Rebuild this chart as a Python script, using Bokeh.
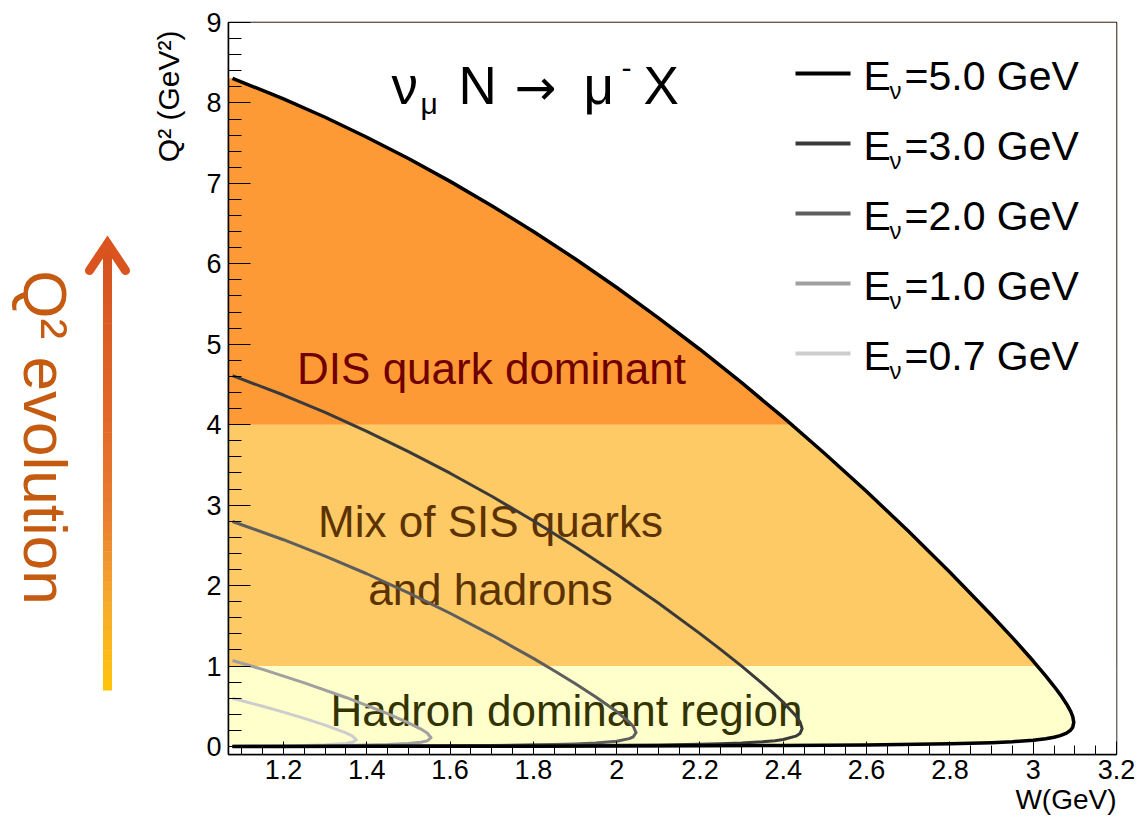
import numpy as np
from bokeh.plotting import figure
from bokeh.models import Range1d, FixedTicker, Title
from bokeh.layouts import row
from bokeh.embed import file_html
from bokeh.resources import INLINE
from bokeh.core.properties import value

# ---------------- data ----------------
energy_labels = ["=5.0 GeV", "=3.0 GeV", "=2.0 GeV", "=1.0 GeV", "=0.7 GeV"]

W_50 = [1.0776, 1.2, 1.3, 1.4, 1.5, 1.6, 1.7, 1.8, 1.9, 2.0, 2.1, 2.2, 2.3, 2.4, 2.5, 2.6, 2.7, 2.8,
        2.9, 2.95, 3.0, 3.03, 3.05, 3.065, 3.08, 3.09, 3.095,
        3.0974,
        3.095, 3.09, 3.08, 3.065, 3.05, 3.03, 3.0, 2.95, 2.9, 2.8, 2.6, 2.4, 2.2, 2.0, 1.8, 1.6,
        1.4, 1.2, 1.0776]
Q2_50 = [8.306, 8.051, 7.822, 7.574, 7.309, 7.025, 6.723, 6.402, 6.063, 5.706, 5.329, 4.935, 4.522,
         4.090, 3.639, 3.169, 2.679, 2.167, 1.632, 1.353, 1.062, 0.878, 0.748, 0.645, 0.529, 0.435,
         0.371,
         0.299,
         0.240, 0.204, 0.166, 0.135, 0.115, 0.097, 0.078, 0.059, 0.047, 0.033, 0.019, 0.012, 0.009,
         0.006, 0.004, 0.003, 0.002, 0.001, 0.000]

W_30 = [1.0776, 1.2, 1.3, 1.4, 1.5, 1.6, 1.7, 1.8, 1.9, 2.0, 2.1, 2.2, 2.25, 2.3, 2.35, 2.38, 2.4,
        2.43, 2.44,
        2.4453,
        2.44, 2.43, 2.4, 2.38, 2.35, 2.3, 2.25, 2.2, 2.1, 2.0, 1.8, 1.6, 1.4, 1.2, 1.0776]
Q2_30 = [4.611, 4.369, 4.152, 3.918, 3.666, 3.397, 3.110, 2.806, 2.483, 2.142, 1.783, 1.403, 1.204,
         0.998, 0.782, 0.645, 0.548, 0.382, 0.307,
         0.222,
         0.160, 0.128, 0.086, 0.072, 0.058, 0.043, 0.034, 0.027, 0.019, 0.014, 0.008, 0.005, 0.003,
         0.001, 0.001]

W_20 = [1.0776, 1.2, 1.3, 1.4, 1.5, 1.6, 1.7, 1.8, 1.85, 1.9, 1.95, 2.0, 2.03, 2.04,
        2.0465,
        2.04, 2.03, 2.0, 1.95, 1.9, 1.85, 1.8, 1.7, 1.6, 1.4, 1.2, 1.0776]
Q2_20 = [2.797, 2.570, 2.367, 2.147, 1.910, 1.656, 1.385, 1.095, 0.942, 0.783, 0.616, 0.434, 0.304,
         0.248,
         0.173,
         0.120, 0.097, 0.065, 0.043, 0.032, 0.025, 0.020, 0.013, 0.009, 0.005, 0.002, 0.001]

W_10 = [1.0776, 1.15, 1.25, 1.35, 1.45, 1.5, 1.53, 1.545,
        1.5544,
        1.545, 1.53, 1.5, 1.45, 1.35, 1.25, 1.15, 1.0776]
Q2_10 = [1.069, 0.958, 0.791, 0.609, 0.407, 0.294, 0.216, 0.168,
         0.109,
         0.069, 0.052, 0.036, 0.023, 0.012, 0.007, 0.004, 0.002]

W_07 = [1.0776, 1.15, 1.2, 1.25, 1.3, 1.35, 1.365,
        1.3752,
        1.365, 1.35, 1.3, 1.25, 1.2, 1.15, 1.0776]
Q2_07 = [0.599, 0.500, 0.427, 0.349, 0.265, 0.169, 0.132,
         0.083,
         0.051, 0.038, 0.021, 0.013, 0.009, 0.006, 0.004]

band_lo = [0.0, 1.0, 4.0]
band_hi = [1.0, 4.0, 9.0]
region_texts = ["DIS quark dominant", "Mix of SIS quarks", "and hadrons", "Hadron dominant region"]

x_ticks = [1.2, 1.4, 1.6, 1.8, 2.0, 2.2, 2.4, 2.6, 2.8, 3.0, 3.2]
x_tick_labels = ["1.2", "1.4", "1.6", "1.8", "2", "2.2", "2.4", "2.6", "2.8", "3", "3.2"]
y_ticks = [0, 1, 2, 3, 4, 5, 6, 7, 8, 9]
y_tick_labels = ["0", "1", "2", "3", "4", "5", "6", "7", "8", "9"]

# ---------------- styling ----------------
FONT = "Liberation Sans"
curve_colors = ["#000000", "#3a3a3a", "#5e5e5e", "#a0a0a0", "#cdcdcd"]
curve_widths = [3.5, 3, 3, 3, 3]
band_colors = ["#FFFFCC", "#FECA66", "#FE9A35"]

X0, X1, Y0, Y1 = 1.068, 3.2, -0.1, 9.0
FL, FR, FT, FB = 228, 1116, 22, 754      # frame in page pixels
H = 818
LEFT_W = 195


def dx(px):
    return X0 + (px - FL) * (X1 - X0) / (FR - FL)


def dy(py):
    return Y1 - (py - FT) * (Y1 - Y0) / (FB - FT)


# ---------------- left decoration figure ----------------
pl = figure(width=LEFT_W, height=H, x_range=Range1d(0, LEFT_W), y_range=Range1d(H - FB, H - FT),
            x_axis_type=None, y_axis_type=None, toolbar_location=None,
            output_backend="svg", min_border_left=0, min_border_right=0,
            min_border_top=FT, min_border_bottom=H - FB)
pl.outline_line_color = None
pl.grid.visible = False
pl.background_fill_color = "white"
pl.border_fill_color = "white"

stops_y = [233, 420, 520, 600, 690]
stops_c = [(212, 80, 30), (226, 104, 40), (234, 128, 48), (246, 170, 45), (255, 196, 10)]
edges = np.linspace(244, 690, 46)
lefts, rights, tops, bottoms, cols = [], [], [], [], []
for a, b in zip(edges[:-1], edges[1:]):
    m = 0.5 * (a + b)
    c = [int(round(np.interp(m, stops_y, [s[k] for s in stops_c]))) for k in range(3)]
    cols.append("#%02x%02x%02x" % tuple(c))
    lefts.append(102.5)
    rights.append(111.5)
    tops.append(H - a + 0.6)
    bottoms.append(H - b)
pl.quad(left=lefts, right=rights, top=tops, bottom=bottoms, fill_color=cols, line_color=None)
pl.line(x=[89, 107, 125], y=[H - 270, H - 243, H - 270], line_width=9, line_cap="round",
        line_join="miter", line_color="#D9541E")
pl.text(x=[45], y=[H - 437], text=["Q\u00b2 evolution"], angle=-np.pi / 2,
        text_align="center", text_baseline="middle", text_font=value(FONT),
        text_font_size=value("62px"), text_color="#C55A11")
# y-axis title (ROOT style, aligned to the top end of the axis)
pl.text(x=[168], y=[H - 30], text=["Q\u00b2 (GeV\u00b2)"], angle=np.pi / 2,
        text_align="right", text_baseline="middle", text_font=value(FONT),
        text_font_size=value("30px"), text_color="black")

# ---------------- main figure ----------------
p = figure(width=1142 - LEFT_W, height=H, x_range=Range1d(X0, X1), y_range=Range1d(Y0, Y1),
           toolbar_location=None, output_backend="svg",
           min_border_left=FL - LEFT_W, min_border_right=1142 - FR,
           min_border_top=FT, min_border_bottom=H - FB)
p.grid.visible = False
p.outline_line_color = "black"
p.outline_line_width = 1.5
p.background_fill_color = "white"
p.border_fill_color = "white"

# bands
p.quad(left=X0, right=X1, bottom=[Y0, band_lo[1], band_lo[2]], top=band_hi,
       fill_color=band_colors, line_color=None)
# white mask outside the 5 GeV boundary
mask_x = [X0, X0] + W_50 + [X0, X0, X1, X1]
mask_y = [Y1, Q2_50[0]] + Q2_50 + [Q2_50[-1], Y0, Y0, Y1]
p.patch(mask_x, mask_y, fill_color="white", line_color=None)

# region texts (y = middle of capitals)
p.text(x=[dx(491), dx(490), dx(490), dx(566)], y=[dy(368), dy(521), dy(589), dy(710)],
       text=region_texts,
       text_color=["#6E0000", "#5C3300", "#5C3300", "#333300"],
       text_align="center", text_baseline="middle", text_font=value(FONT),
       text_font_size=value("44px"))

# curves
curves = [(W_50, Q2_50), (W_30, Q2_30), (W_20, Q2_20), (W_10, Q2_10), (W_07, Q2_07)]
for (w, q), c, lw in zip(curves[::-1], curve_colors[::-1], curve_widths[::-1]):
    p.line(w, q, line_color=c, line_width=lw, line_join="round")

# legend (manual, to keep the nu subscript)
for i, (lab, c) in enumerate(zip(energy_labels, curve_colors)):
    mid = 75 + 70 * i
    p.line([dx(795), dx(850)], [dy(mid - 2)] * 2, line_color=c, line_width=4)
    p.text(x=[dx(863)], y=[dy(mid)], text=["E"], text_font=value(FONT),
           text_font_size=value("41px"), text_baseline="middle", text_color="black")
    p.text(x=[dx(889)], y=[dy(mid + 15)], text=["\u03bd"], text_font=value(FONT),
           text_font_size=value("24px"), text_baseline="middle", text_color="black")
    p.text(x=[dx(904)], y=[dy(mid)], text=[lab], text_font=value(FONT),
           text_font_size=value("41px"), text_baseline="middle", text_color="black")

# reaction title
pieces = [("\u03bd", 391, 85, "53px", FONT), ("\u03bc", 420, 103, "30px", FONT),
          ("N", 458, 85, "53px", FONT), ("\u2192", 514, 87, "50px", "DejaVu Sans"),
          ("\u03bc", 583, 85, "53px", FONT), ("-", 621, 67, "30px", FONT),
          ("X", 643, 85, "53px", FONT)]
for t, px, py, fs, fnt in pieces:
    p.text(x=[dx(px)], y=[dy(py)], text=[t], text_font=value(fnt), text_font_size=value(fs),
           text_baseline="middle", text_align="left", text_color="black")

# axes
p.xaxis.ticker = FixedTicker(ticks=x_ticks,
                             minor_ticks=list(np.round(np.arange(1.10, 3.2001, 0.05), 3)))
p.xaxis.major_label_overrides = dict(zip(x_ticks, x_tick_labels))
p.yaxis.ticker = FixedTicker(ticks=y_ticks,
                             minor_ticks=list(np.round(np.arange(0.0, 9.001, 0.2), 3)))
p.yaxis.major_label_overrides = dict(zip(y_ticks, y_tick_labels))
for ax in (p.xaxis, p.yaxis):
    ax.axis_line_color = "black"
    ax.axis_line_width = 1.5
    ax.major_tick_out = 0
    ax.minor_tick_out = 0
    ax.major_tick_line_color = "black"
    ax.minor_tick_line_color = "black"
    ax.major_label_text_font = FONT
    ax.major_label_text_font_size = "27px"
    ax.major_label_text_color = "black"
p.xaxis.major_tick_in = 13
p.xaxis.minor_tick_in = 9
p.yaxis.major_tick_in = 22
p.yaxis.minor_tick_in = 13
p.xaxis.major_label_standoff = 5
p.yaxis.major_label_standoff = 7

p.add_layout(Title(text="W(GeV)", align="right", text_font=FONT, text_font_size="28px",
                   text_font_style="normal", text_color="black", standoff=0), "below")

layout = row(pl, p)
open("out.html", "w").write(file_html(layout, INLINE))
